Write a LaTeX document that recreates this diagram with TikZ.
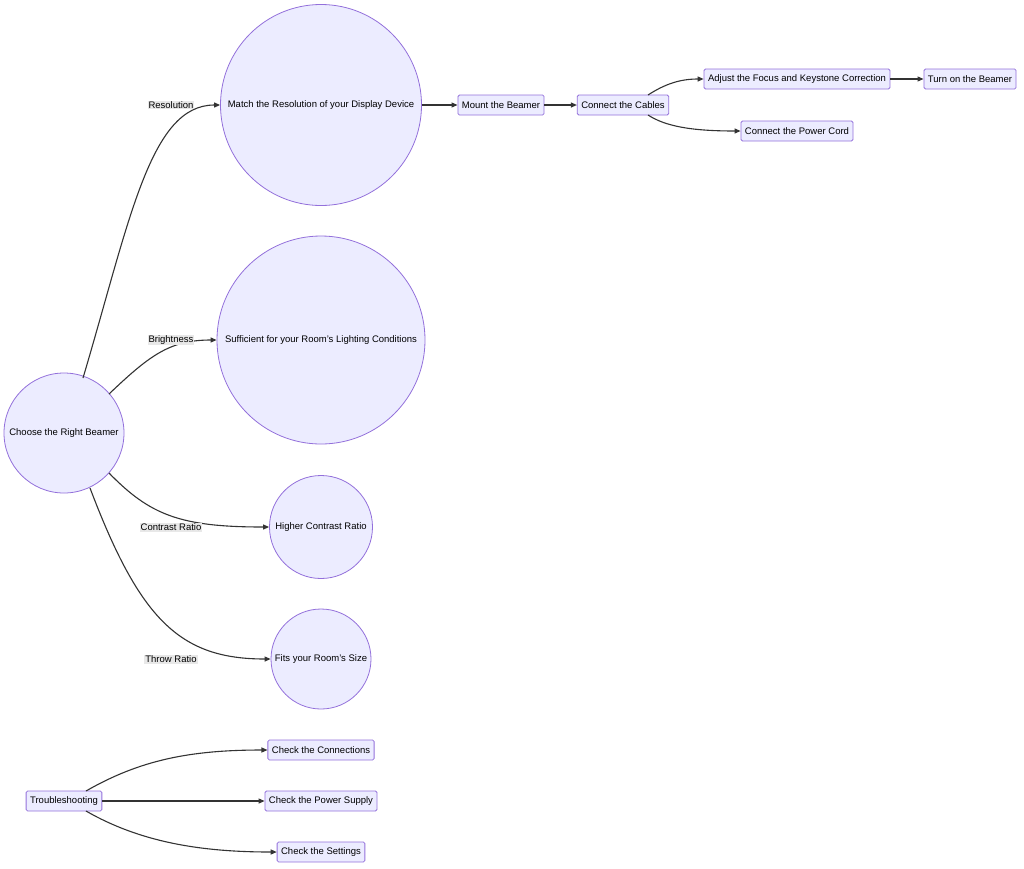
\documentclass[tikz,border=0pt]{standalone}
\usepackage{fontspec}
\setmainfont{Liberation Sans}
\usetikzlibrary{arrows.meta}
\begin{document}
\begin{tikzpicture}[x=1pt,y=-1pt,
  box/.style={draw=#1,fill=nodefill,line width=0.8pt,font=\fontsize{9.5}{11}\selectfont,inner sep=0pt},
  box/.default=nodeline,
  rbox/.style={box,rectangle,rounded corners=1.5pt,minimum height=20pt,inner xsep=4pt},
  cbox/.style={box,circle},
  edge/.style={draw=edgecol,line width=1.1pt,-{Triangle[length=6pt,width=5pt]}},
  lab/.style={fill=labbg,font=\fontsize{9.5}{11}\selectfont,inner sep=1pt}]
\definecolor{nodefill}{HTML}{ECECFF}
\definecolor{nodeline}{HTML}{9370DB}
\definecolor{edgecol}{HTML}{333333}
\definecolor{labbg}{HTML}{E8E8E8}
\useasboundingbox (0,0) rectangle (1024,868);
\node[cbox,minimum size=120pt] (choose) at (64,433) {Choose the Right Beamer};
\node[cbox,minimum size=201pt] (match) at (321,105) {Match the Resolution of your Display Device};
\node[cbox,minimum size=208pt] (suff) at (321,340) {Sufficient for your Room's Lighting Conditions};
\node[cbox,minimum size=103pt] (contrast) at (321,527) {Higher Contrast Ratio};
\node[cbox,minimum size=100pt] (fits) at (321,659) {Fits your Room's Size};
\node[rbox] (mount) at (501,105) {Mount the Beamer};
\node[rbox] (cables) at (623,105) {Connect the Cables};
\node[rbox] (adjust) at (797,79) {Adjust the Focus and Keystone Correction};
\node[rbox] (turn) at (970,79) {Turn on the Beamer};
\node[rbox] (power) at (797,131) {Connect the Power Cord};
\node[rbox] (trouble) at (64,801) {Troubleshooting};
\node[rbox] (conn) at (321,750) {Check the Connections};
\node[rbox] (supply) at (321,801) {Check the Power Supply};
\node[rbox] (sett) at (321,852) {Check the Settings};

\draw[edge] (83,378) .. controls (130,220) and (150,105) .. (match.west);
\draw[edge] (109,394) .. controls (150,355) and (170,340) .. (suff.west);
\draw[edge] (109,473) .. controls (150,515) and (180,527) .. (contrast.west);
\draw[edge] (90,488) .. controls (140,620) and (180,659) .. (fits.west);
\node[lab] at (171,105) {Resolution};
\node[lab] at (171,340) {Brightness};
\node[lab] at (171,527) {Contrast Ratio};
\node[lab] at (171,659) {Throw Ratio};
\draw[edge] (match.east) -- (mount.west);
\draw[edge] (mount.east) -- (cables.west);
\draw[edge] (648,95) .. controls (665,84) and (680,79) .. (adjust.west);
\draw[edge] (648,115) .. controls (665,126) and (690,131) .. (power.west);
\draw[edge] (adjust.east) -- (turn.west);
\draw[edge] (86,791) .. controls (140,760) and (190,750) .. (conn.west);
\draw[edge] (trouble.east) -- (supply.west);
\draw[edge] (86,811) .. controls (140,842) and (200,852) .. (sett.west);
\end{tikzpicture}
\end{document}
